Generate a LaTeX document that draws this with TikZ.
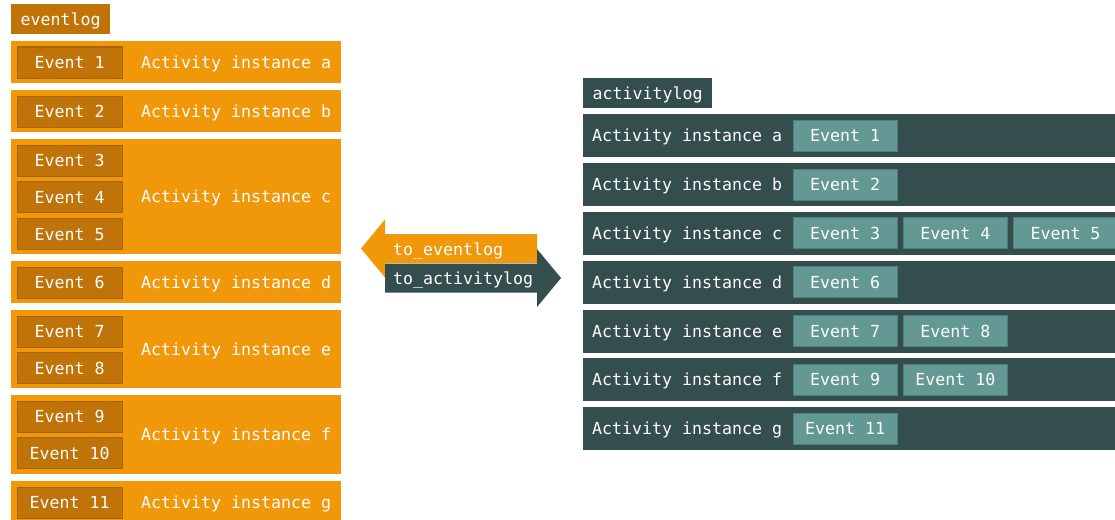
\documentclass[tikz,border=0pt]{standalone}
\usepackage{fontspec}
\setmonofont{DejaVu Sans Mono}
\definecolor{logOrange}{HTML}{F0970A}
\definecolor{logOrangeDark}{HTML}{BF7308}
\definecolor{logOrangeLine}{HTML}{A8650A}
\definecolor{logSlate}{HTML}{344D4D}
\definecolor{logTeal}{HTML}{649895}
\definecolor{logTealLine}{HTML}{4E7F7C}
\usetikzlibrary{positioning}

\begin{document}
\begin{tikzpicture}[
    x=1pt, y=-1pt,
    every node/.style={font=\ttfamily\fontsize{16.6}{19}\selectfont, text=white, inner sep=0pt, text depth=0pt},
    erow/.style={rectangle, anchor=north west, minimum width=330pt, fill=logOrange},
    arow/.style={rectangle, anchor=north west, minimum width=560pt, minimum height=43pt, fill=logSlate},
    ebox/.style={rectangle, anchor=north west, minimum width=105pt, minimum height=31pt, fill=logOrangeDark, draw=logOrangeLine, line width=1.2pt},
    abox/.style={rectangle, anchor=north west, minimum width=104pt, minimum height=31pt, fill=logTeal, draw=logTealLine, line width=1.2pt},
    tag/.style={rectangle, anchor=north west, minimum height=30pt, inner xsep=9.5pt},
    lbl/.style={anchor=west}
]
\useasboundingbox (0,0) rectangle (1115,519);
\clip (0,0) rectangle (1115,519);

% eventlog
\node[tag, fill=logOrangeDark] (evlog) at (11,4) {eventlog};

\node[erow, minimum height=42pt] (ra) at (11,41) {};
\node[ebox] (e1) at (16.5,46.5) {Event 1};
\node[lbl] (la) at (141,62) {Activity instance a};

\node[erow, minimum height=42pt] (rb) at (11,90) {};
\node[ebox] (e2) at (16.5,95.5) {Event 2};
\node[lbl] (lb) at (141,111) {Activity instance b};

\node[erow, minimum height=115pt] (rc) at (11,139) {};
\node[ebox] (e3) at (16.5,144.5) {Event 3};
\node[ebox, below=4.5pt of e3] (e4) {Event 4};
\node[ebox, below=4.5pt of e4] (e5) {Event 5};
\node[lbl] (lc) at (141,196.5) {Activity instance c};

\node[erow, minimum height=42pt] (rd) at (11,261) {};
\node[ebox] (e6) at (16.5,266.5) {Event 6};
\node[lbl] (ld) at (141,282) {Activity instance d};

\node[erow, minimum height=78pt] (re) at (11,310) {};
\node[ebox] (e7) at (16.5,315.5) {Event 7};
\node[ebox, below=4.5pt of e7] (e8) {Event 8};
\node[lbl] (le) at (141,349) {Activity instance e};

\node[erow, minimum height=79pt] (rf) at (11,395) {};
\node[ebox] (e9) at (16.5,400.5) {Event 9};
\node[ebox, below=4.5pt of e9] (e10) {Event 10};
\node[lbl] (lf) at (141,434.5) {Activity instance f};

\node[erow, minimum height=42pt] (rg) at (11,481) {};
\node[ebox] (e11) at (16.5,486.5) {Event 11};
\node[lbl] (lg) at (141,502) {Activity instance g};

% conversion arrows
\fill[logOrange] (537,234) -- (385,234) -- (385,219.5) -- (361,248.5) -- (385,277.5) -- (385,263) -- (537,263) -- cycle;
\fill[logSlate] (385,263.5) -- (537,263.5) -- (537,249) -- (561,278) -- (537,307) -- (537,292.5) -- (385,292.5) -- cycle;
\node[lbl] (toev) at (393,249) {to\_eventlog};
\node[lbl] (toact) at (393,278) {to\_activitylog};

% activitylog
\node[tag, fill=logSlate] (aclog) at (583,78) {activitylog};

\node[arow] (aa) at (583,114) {};
\node[lbl] (ma) at (592,135.5) {Activity instance a};
\node[abox] (a1) at (792.5,119.5) {Event 1};

\node[arow] (ab) at (583,163) {};
\node[lbl] (mb) at (592,184.5) {Activity instance b};
\node[abox] (a2) at (792.5,168.5) {Event 2};

\node[arow] (ac) at (583,211.5) {};
\node[lbl] (mc) at (592,233) {Activity instance c};
\node[abox] (a3) at (792.5,217) {Event 3};
\node[abox, right=5pt of a3] (a4) {Event 4};
\node[abox, right=5pt of a4] (a5) {Event 5};

\node[arow] (ad) at (583,260.5) {};
\node[lbl] (md) at (592,282) {Activity instance d};
\node[abox] (a6) at (792.5,266) {Event 6};

\node[arow] (ae) at (583,309.5) {};
\node[lbl] (me) at (592,331) {Activity instance e};
\node[abox] (a7) at (792.5,315) {Event 7};
\node[abox, right=5pt of a7] (a8) {Event 8};

\node[arow] (af) at (583,358) {};
\node[lbl] (mf) at (592,379.5) {Activity instance f};
\node[abox] (a9) at (792.5,363.5) {Event 9};
\node[abox, right=5pt of a9] (a10) {Event 10};

\node[arow] (ag) at (583,407) {};
\node[lbl] (mg) at (592,428.5) {Activity instance g};
\node[abox] (a11) at (792.5,412.5) {Event 11};

\end{tikzpicture}
\end{document}
